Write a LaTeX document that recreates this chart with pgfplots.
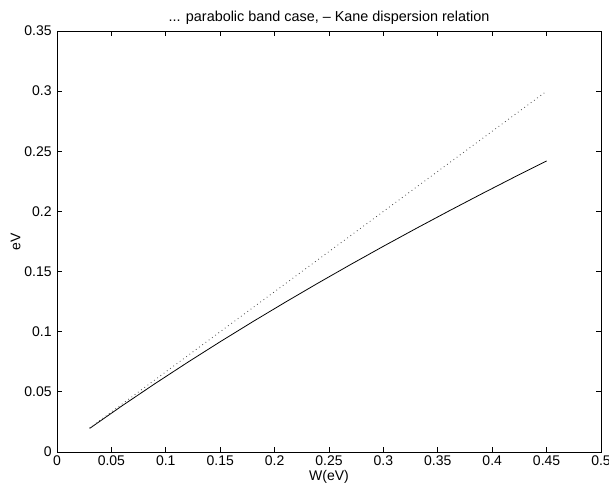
\documentclass[border=0pt]{standalone}
\usepackage{pgfplots}
\pgfplotsset{compat=1.18}
\usepackage{fontspec}
\setmainfont{Liberation Sans}
\begin{document}
\begin{tikzpicture}
\begin{axis}[
  at={(0,0)}, anchor=south west,
  scale only axis, width=408pt, height=315.75pt,
  xmin=0, xmax=0.5, ymin=0, ymax=0.35,
  xtick={0,0.05,...,0.5}, ytick={0,0.05,...,0.35},
  xticklabels={0,0.05,0.1,0.15,0.2,0.25,0.3,0.35,0.4,0.45,0.5},
  yticklabels={0,0.05,0.1,0.15,0.2,0.25,0.3,0.35},
  tick align=inside, major tick length=4pt,
  xtick pos=both, ytick pos=both,
  axis line style={line width=0.75pt},
  every tick/.style={black, line width=0.6pt},
  tick label style={font=\fontsize{10.5}{12}\selectfont},
  /pgf/number format/assume math mode=true,
  xticklabel style={yshift=1pt},
  yticklabel style={xshift=-0.5pt},
  title={... parabolic band case, -- Kane dispersion relation},
  title style={font=\fontsize{10.8}{12}\selectfont, yshift=-4.5pt},
  xlabel={W(eV)}, ylabel={eV},
  xlabel style={font=\fontsize{10.5}{12}\selectfont, yshift=3pt},
  ylabel style={font=\fontsize{10.5}{12}\selectfont, yshift=-4pt},
  clip=false,
]
\addplot[black, line width=0.6pt] coordinates {
(0.03,0.01962) (0.06,0.03853) (0.09,0.05680) (0.12,0.07450) (0.15,0.09168)
(0.18,0.10837) (0.21,0.12462) (0.24,0.14047) (0.27,0.15593) (0.30,0.17104)
(0.33,0.18581) (0.36,0.20028) (0.39,0.21446) (0.42,0.22837) (0.45,0.24201)};
\addplot[black!70, line width=0.6pt, dash pattern=on 0.6pt off 2.4pt] coordinates {
(0.03,0.02) (0.15,0.10) (0.30,0.20) (0.45,0.30)};
\end{axis}
\pgfresetboundingbox
\path (-42.75pt,-31.5pt) rectangle (414pt,339pt);
\end{tikzpicture}
\end{document}
